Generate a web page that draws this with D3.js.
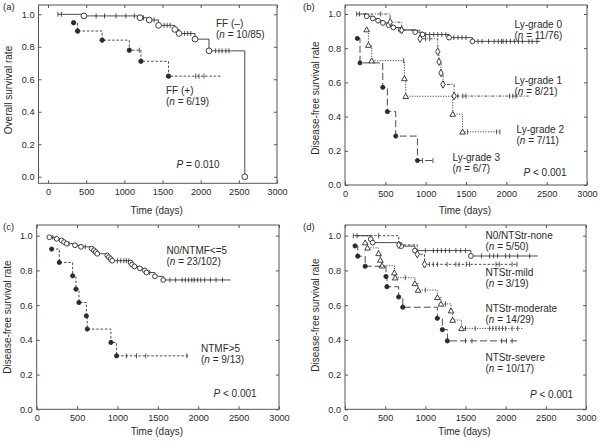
<!DOCTYPE html>
<html><head><meta charset="utf-8">
<script src="https://cdn.jsdelivr.net/npm/d3@7/dist/d3.min.js"></script>
<style>body{margin:0;background:#fff}svg{display:block;font-family:"Liberation Sans",Arial,sans-serif}</style>
</head><body><svg id="c" width="600" height="442"></svg>
<script>
// ---------- DATA ----------
const xTickVals = [0, 500, 1000, 1500, 2000, 2500, 3000];
const yTickVals = [0, 0.2, 0.4, 0.6, 0.8, 1.0];

// Panel (a)
const ffNegTimes = [470, 1205, 1326, 1448, 1661, 1717, 1926, 2109, 2578];
const ffNegSurv  = [0.99, 0.979, 0.965, 0.932, 0.907, 0.882, 0.847, 0.775, 0.0];
const ffNegCens  = [130, 175, 630, 740, 890, 1020, 1130, 1250, 1390, 1520, 1560, 1600, 1790, 1830, 1870, 2196, 2240, 2280, 2330, 2370];
const ffPosTimes = [335, 387, 709, 1065, 1217, 1578];
const ffPosSurv  = [0.948, 0.897, 0.841, 0.779, 0.711, 0.619];
const ffPosCens  = [400, 1196, 1935, 1978, 2043];

// Panel (b)
const ly0Times = [269, 345, 410, 470, 540, 600, 690, 870, 960, 1290, 1580];
const ly0Surv  = [0.987, 0.974, 0.961, 0.948, 0.935, 0.921, 0.907, 0.894, 0.88, 0.862, 0.84];
const ly0Cens  = [145, 180, 1000, 1050, 1100, 1150, 1200, 1250, 1350, 1400, 1450, 1500, 1650, 1700, 1780, 1850, 1900, 1940, 1960, 2000, 2050, 2100, 2150, 2200, 2280, 2320, 2380];
const ly1Times = [560, 703, 930, 1150, 1165, 1190, 1215, 1353];
const ly1Surv  = [0.952, 0.905, 0.855, 0.78, 0.72, 0.655, 0.588, 0.52];
const ly1Cens  = [443, 1000, 1050, 1400, 1460, 1500, 2040, 2080, 2120];
const ly2Times = [269, 290, 331, 737, 753, 1336, 1457];
const ly2Surv  = [0.909, 0.818, 0.727, 0.623, 0.519, 0.415, 0.311];
const ly2Cens  = [724, 1520, 1880, 1920];
const ly3Times = [153, 186, 468, 525, 629, 898];
const ly3Surv  = [0.857, 0.714, 0.571, 0.429, 0.286, 0.143];
const ly3Cens  = [960, 1090];

// Panel (c)
const ntmfLoTimes = [157, 247, 309, 338, 371, 474, 548, 680, 709, 729, 750, 874, 894, 915, 935, 1162, 1180, 1210, 1277, 1339, 1360, 1463, 1566];
const ntmfLoSurv  = [0.991, 0.982, 0.973, 0.963, 0.954, 0.945, 0.936, 0.926, 0.916, 0.906, 0.896, 0.886, 0.876, 0.866, 0.856, 0.845, 0.834, 0.823, 0.812, 0.800, 0.788, 0.766, 0.745];
const ntmfLoCens  = [200, 400, 600, 1000, 1040, 1080, 1110, 1140, 1400, 1650, 1720, 1800, 1840, 1880, 1920, 1950, 1990, 2030, 2080, 2150, 2220, 2300];
const ntmfHiTimes = [185, 280, 445, 486, 523, 615, 626, 919, 989];
const ntmfHiSurv  = [0.923, 0.846, 0.769, 0.692, 0.615, 0.538, 0.462, 0.385, 0.308];
const ntmfHiCens  = [1110, 1236, 1350, 1860];

// Panel (d)
const strNoneTimes = [320, 345, 700, 870, 1567];
const strNoneSurv  = [0.98, 0.96, 0.94, 0.914, 0.883];
const strNoneCens  = [104, 150, 1000, 1100, 1150, 1200, 1250, 1300, 1380, 1440, 1500, 1700, 1800, 1850, 1900, 2000, 2050, 2150, 2300];
const strMildTimes = [669, 900, 990];
const strMildSurv  = [0.947, 0.893, 0.835];
const strMildCens  = [418, 1050, 1100, 1150, 1270, 1380, 1420, 1510, 1550, 1880, 1920, 2080, 2140];
const strModTimes = [251, 280, 418, 440, 460, 615, 625, 870, 910, 1150, 1195, 1320, 1340, 1450];
const strModSurv  = [0.96, 0.93, 0.898, 0.86, 0.827, 0.787, 0.758, 0.725, 0.687, 0.645, 0.607, 0.568, 0.514, 0.466];
const strModCens  = [750, 1000, 1250, 1500, 1620, 1800, 1840, 1880, 1920, 1960, 2000, 2080, 2150];
const strSevTimes = [125, 159, 251, 510, 522, 668, 719, 1149, 1212, 1274];
const strSevSurv  = [0.941, 0.882, 0.824, 0.765, 0.706, 0.647, 0.588, 0.524, 0.459, 0.394];
const strSevCens  = [1500, 1580, 1950, 2010, 2080];

// ---------- DRAWING ----------
const svg = d3.select('#c');
const INK = '#2a2a2a';

function makePanel(p) {
  const g = svg.append('g');
  const x = d3.scaleLinear().domain(p.xd).range([p.x0, p.x1]);
  const y = d3.scaleLinear().domain(p.yd).range([p.y1, p.y0]);
  g.append('rect').attr('x', p.x0).attr('y', p.y0)
    .attr('width', p.x1 - p.x0).attr('height', p.y1 - p.y0)
    .attr('fill', 'none').attr('stroke', '#555').attr('stroke-width', 1);
  const style = sel => {
    sel.select('.domain').remove();
    sel.selectAll('line').attr('stroke', '#555');
    sel.selectAll('text').attr('fill', INK).attr('font-size', 9.2)
      .attr('font-family', '"Liberation Sans",Arial,sans-serif');
  };
  g.append('g').attr('transform', `translate(0,${p.y1})`)
    .call(d3.axisBottom(x).tickValues(xTickVals).tickSize(-3).tickPadding(p.xpad).tickFormat(d3.format('d'))).call(style);
  g.append('g').attr('transform', `translate(0,${p.y0})`)
    .call(d3.axisTop(x).tickValues(xTickVals).tickSize(-3).tickFormat('')).call(style);
  g.append('g').attr('transform', `translate(${p.x0},0)`)
    .call(d3.axisLeft(y).tickValues(yTickVals).tickSize(-3).tickPadding(4).tickFormat(d3.format('.1f'))).call(style);
  g.append('g').attr('transform', `translate(${p.x1},0)`)
    .call(d3.axisRight(y).tickValues(yTickVals).tickSize(-3).tickFormat('')).call(style);
  // labels
  g.append('text').attr('x', p.lx).attr('y', p.ly).attr('font-size', 9.5).attr('fill', INK).text(p.letter);
  g.append('text').attr('x', (p.x0 + p.x1) / 2 + p.tdx).attr('y', p.ty).attr('text-anchor', 'middle')
    .attr('font-size', 10).attr('fill', INK).text('Time (days)');
  g.append('text').attr('transform', `translate(${p.yx},${p.yy}) rotate(-90)`).attr('text-anchor', 'middle')
    .attr('dominant-baseline', 'central').attr('font-size', 10).attr('fill', INK).text(p.ytitle);
  return {g, x, y};
}

function drawCurve(P, c) {
  const {g, x, y} = P;
  let pts = [], s, start;
  if (c.fromFirst) { pts.push([c.times[0], c.surv[0]]); s = c.surv[0]; start = 1; }
  else { pts.push([c.t0, 1]); s = 1; start = 0; }
  for (let i = start; i < c.times.length; i++) {
    pts.push([c.times[i], s]); s = c.surv[i]; pts.push([c.times[i], s]);
  }
  const lastC = c.cens.length ? d3.max(c.cens) : 0;
  const end = Math.max(c.end || 0, lastC, c.times[c.times.length - 1]);
  pts.push([end, s]);
  g.append('path').datum(pts)
    .attr('d', d3.line().x(d => x(d[0])).y(d => y(d[1])))
    .attr('fill', 'none').attr('stroke', INK).attr('stroke-width', 0.85)
    .attr('stroke-dasharray', c.dash || null);
  // censor marks
  const survAt = t => {
    let v = c.fromFirst ? c.surv[0] : 1;
    for (let i = 0; i < c.times.length; i++) if (c.times[i] <= t) v = c.surv[i];
    return v;
  };
  g.selectAll(null).data(c.cens).enter().append('line')
    .attr('x1', d => x(d)).attr('x2', d => x(d))
    .attr('y1', d => y(survAt(d)) - 2.5).attr('y2', d => y(survAt(d)) + 2.5)
    .attr('stroke', INK).attr('stroke-width', 0.8);
  // event markers
  const sym = {circle: d3.symbolCircle, dot: d3.symbolCircle, diamond: d3.symbolDiamond, triangle: d3.symbolTriangle}[c.mark];
  g.selectAll(null).data(c.times.map((t, i) => [t, c.surv[i]])).enter().append('path')
    .attr('transform', d => `translate(${x(d[0])},${y(d[1]) + (c.mark === 'triangle' ? 0.6 : 0)})`)
    .attr('d', d3.symbol().type(sym).size(c.size))
    .attr('fill', c.mark === 'dot' ? INK : '#fff')
    .attr('stroke', INK).attr('stroke-width', 0.9);
}

function note(P, x0, y0, lines) {
  lines.forEach((ln, i) => {
    const t = P.g.append('text').attr('x', x0).attr('y', y0 + i * 11.3).attr('font-size', 10).attr('fill', INK);
    ln.forEach(part => {
      t.append('tspan').attr('font-style', part.i ? 'italic' : null).text(part.t);
    });
  });
}
const nline = str => [{t: '('}, {t: 'n', i: 1}, {t: ' = ' + str + ')'}];
const pline = str => [{t: 'P', i: 1}, {t: str}];

// Panel a
const A = makePanel({x0: 38.5, x1: 277, xd: [-125, 3000], y0: 5, y1: 183.3, yd: [-0.0406, 1.0573], xpad: 5.5,
  letter: '(a)', lx: 3, ly: 9.5, ty: 213.5, tdx: -1, yx: 8.5, yy: 90, ytitle: 'Overall survival rate'});
drawCurve(A, {t0: 130, times: ffNegTimes, surv: ffNegSurv, cens: ffNegCens, mark: 'circle', size: 26, end: 2578});
drawCurve(A, {fromFirst: true, times: ffPosTimes, surv: ffPosSurv, cens: ffPosCens, mark: 'dot', size: 15, dash: '2.5,1.8', end: 2261});
note(A, 216, 27, [[{t: 'FF (–)'}], nline('10/85')]);
note(A, 166, 94, [[{t: 'FF (+)'}], nline('6/19')]);
note(A, 176.5, 168, [pline(' = 0.010')]);

// Panel b
const B = makePanel({x0: 345, x1: 587, xd: [0, 3000], y0: 5, y1: 185, yd: [0, 1.0526], xpad: 5,
  letter: '(b)', lx: 303, ly: 9.5, ty: 213.5, tdx: -1, yx: 315, yy: 98, ytitle: 'Disease-free survival rate'});
drawCurve(B, {t0: 145, times: ly0Times, surv: ly0Surv, cens: ly0Cens, mark: 'circle', size: 18, end: 2420});
drawCurve(B, {t0: 228, times: ly1Times, surv: ly1Surv, cens: ly1Cens, mark: 'diamond', size: 16, dash: '3,1.5,1,1.5', end: 2276});
drawCurve(B, {fromFirst: true, times: ly2Times, surv: ly2Surv, cens: ly2Cens, mark: 'triangle', size: 14, dash: '1.2,1.4', end: 1924});
drawCurve(B, {fromFirst: true, times: ly3Times, surv: ly3Surv, cens: ly3Cens, mark: 'dot', size: 13, dash: '7,3', end: 1097});
note(B, 514.5, 28, [[{t: 'Ly-grade 0'}], nline('11/76')]);
note(B, 514.5, 84, [[{t: 'Ly-grade 1'}], nline('8/21')]);
note(B, 516.5, 133, [[{t: 'Ly-grade 2'}], nline('7/11')]);
note(B, 452.5, 160.5, [[{t: 'Ly-grade 3'}], nline('6/7')]);
note(B, 523.5, 176, [pline(' < 0.001')]);

// Panel c
const C = makePanel({x0: 36.7, x1: 279, xd: [0, 3000], y0: 225, y1: 409.3, yd: [0, 1.0616], xpad: 4.8,
  letter: '(c)', lx: 3, ly: 229.5, ty: 435, tdx: -1, yx: 7.5, yy: 317, ytitle: 'Disease-free survival rate'});
drawCurve(C, {t0: 150, times: ntmfLoTimes, surv: ntmfLoSurv, cens: ntmfLoCens, mark: 'circle', size: 18, end: 2400});
drawCurve(C, {fromFirst: true, times: ntmfHiTimes, surv: ntmfHiSurv, cens: ntmfHiCens, mark: 'dot', size: 14, dash: '2.5,1.8', end: 1875});
note(C, 166.5, 254, [[{t: 'N0/NTMF<=5'}], nline('23/102')]);
note(C, 201, 352, [[{t: 'NTMF>5'}], nline('9/13')]);
note(C, 213.5, 397, [pline(' < 0.001')]);

// Panel d
const D = makePanel({x0: 345, x1: 586, xd: [0, 3000], y0: 225, y1: 409.3, yd: [0, 1.0616], xpad: 4.8,
  letter: '(d)', lx: 303, ly: 229.5, ty: 434.5, tdx: -1, yx: 315, yy: 315, ytitle: 'Disease-free survival rate'});
drawCurve(D, {t0: 104, times: strNoneTimes, surv: strNoneSurv, cens: strNoneCens, mark: 'circle', size: 18, end: 2400});
drawCurve(D, {t0: 150, times: strMildTimes, surv: strMildSurv, cens: strMildCens, mark: 'diamond', size: 16, dash: '2.5,1.8', end: 2152});
drawCurve(D, {fromFirst: true, times: strModTimes, surv: strModSurv, cens: strModCens, mark: 'triangle', size: 14, dash: '1.2,1.4', end: 2206});
drawCurve(D, {fromFirst: true, times: strSevTimes, surv: strSevSurv, cens: strSevCens, mark: 'dot', size: 14, dash: '7,3', end: 2152});
note(D, 485.5, 239, [[{t: 'N0/NTStr-none'}], nline('5/50')]);
note(D, 485.5, 275.5, [[{t: 'NTStr-mild'}], nline('3/19')]);
note(D, 485.5, 312, [[{t: 'NTStr-moderate'}], nline('14/29')]);
note(D, 485.5, 360.5, [[{t: 'NTStr-severe'}], nline('10/17')]);
note(D, 530, 398, [pline(' < 0.001')]);
</script></body></html>
